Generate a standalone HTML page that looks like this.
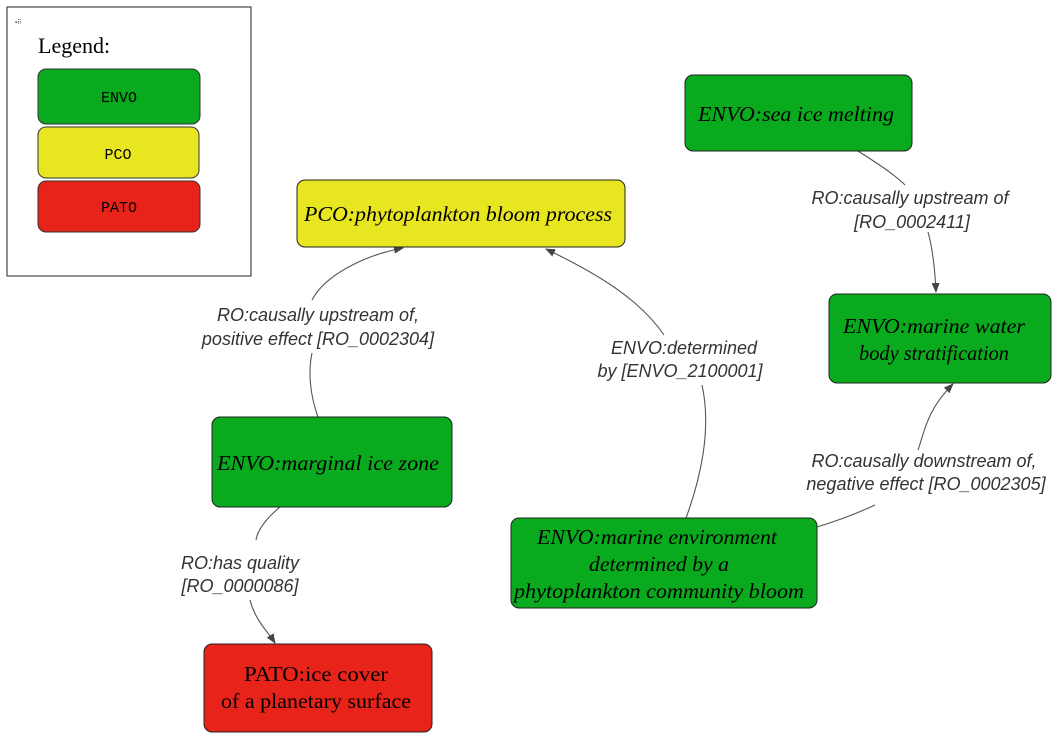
<!DOCTYPE html>
<html><head><style>body{margin:0;background:#fff}svg{display:block}</style></head><body>
<svg width="1064" height="752" viewBox="0 0 1064 752" xmlns="http://www.w3.org/2000/svg">
<defs><marker id="a" markerWidth="10" markerHeight="8" refX="9" refY="4" orient="auto" markerUnits="userSpaceOnUse"><path d="M0,0 L10,4 L0,8 z" fill="#444"/></marker></defs>
<rect x="7" y="7" width="244" height="269" fill="#fff" stroke="#222"/>
<text x="15" y="24" font-size="6" fill="#333" font-family="Liberation Sans">▪⠿</text>
<text x="38" y="53" font-family="Liberation Serif" font-size="22">Legend:</text>
<g font-family="Liberation Mono" font-size="15" text-anchor="middle">
<rect x="38" y="69" width="162" height="55" rx="8" fill="#0aaa1e" stroke="#333"/><text x="119" y="102">ENVO</text>
<rect x="38" y="127" width="161" height="51" rx="8" fill="#e8e620" stroke="#333"/><text x="118" y="159">PCO</text>
<rect x="38" y="181" width="162" height="51" rx="8" fill="#e8231a" stroke="#333"/><text x="119" y="212">PATO</text>
</g>
<g fill="none" stroke="#555" stroke-width="1.1">
<path d="M858,151 C880,165 895,175 905,185"/>
<path d="M928,232 C933,250 935,270 936,292" marker-end="url(#a)"/>
<path d="M318,417 C310,395 308,372 312,353"/>
<path d="M312,300 C325,275 365,255 403,248" marker-end="url(#a)"/>
<path d="M686,518 C700,480 712,430 702,385"/>
<path d="M664,335 C640,300 600,275 546,249" marker-end="url(#a)"/>
<path d="M817,527 C840,520 860,512 875,505"/>
<path d="M918,450 C925,430 927,410 953,384" marker-end="url(#a)"/>
<path d="M280,507 C268,517 258,528 256,540"/>
<path d="M250,600 C255,620 268,632 275,643" marker-end="url(#a)"/>
</g>
<g font-family="Liberation Sans" font-style="italic" font-size="18" fill="#333" text-anchor="middle">
<text x="910" y="204">RO:causally upstream of</text><text x="912" y="228">[RO_0002411]</text>
<text x="318" y="321">RO:causally upstream of,</text><text x="318" y="345">positive effect [RO_0002304]</text>
<text x="684" y="354">ENVO:determined</text><text x="680" y="377">by [ENVO_2100001]</text>
<text x="924" y="467">RO:causally downstream of,</text><text x="926" y="490">negative effect [RO_0002305]</text>
<text x="240" y="569">RO:has quality</text><text x="240" y="592">[RO_0000086]</text>
</g>
<g font-family="Liberation Serif" font-size="21" text-anchor="middle" fill="#000">
<rect x="685" y="75" width="227" height="76" rx="8" fill="#0aaa1e" stroke="#222"/>
<text x="796" y="121" font-style="italic" textLength="196" lengthAdjust="spacingAndGlyphs">ENVO:sea ice melting</text>
<rect x="297" y="180" width="328" height="67" rx="8" fill="#e8e620" stroke="#222"/>
<text x="458" y="221" font-style="italic" textLength="308" lengthAdjust="spacingAndGlyphs">PCO:phytoplankton bloom process</text>
<rect x="829" y="294" width="222" height="89" rx="8" fill="#0aaa1e" stroke="#222"/>
<text x="934" y="333" font-style="italic" textLength="182" lengthAdjust="spacingAndGlyphs">ENVO:marine water</text><text x="934" y="360" font-style="italic" textLength="150" lengthAdjust="spacingAndGlyphs">body stratification</text>
<rect x="212" y="417" width="240" height="90" rx="8" fill="#0aaa1e" stroke="#222"/>
<text x="328" y="470" font-style="italic" textLength="222" lengthAdjust="spacingAndGlyphs">ENVO:marginal ice zone</text>
<rect x="511" y="518" width="306" height="90" rx="8" fill="#0aaa1e" stroke="#222"/>
<text x="657" y="544" font-style="italic" textLength="240" lengthAdjust="spacingAndGlyphs">ENVO:marine environment</text><text x="659" y="571" font-style="italic" textLength="140" lengthAdjust="spacingAndGlyphs">determined by a</text><text x="659" y="598" font-style="italic" textLength="290" lengthAdjust="spacingAndGlyphs">phytoplankton community bloom</text>
<rect x="204" y="644" width="228" height="88" rx="8" fill="#e8231a" stroke="#222"/>
<text x="316" y="681" textLength="144" lengthAdjust="spacingAndGlyphs">PATO:ice cover</text><text x="316" y="708" textLength="190" lengthAdjust="spacingAndGlyphs">of a planetary surface</text>
</g>
</svg>
</body></html>
